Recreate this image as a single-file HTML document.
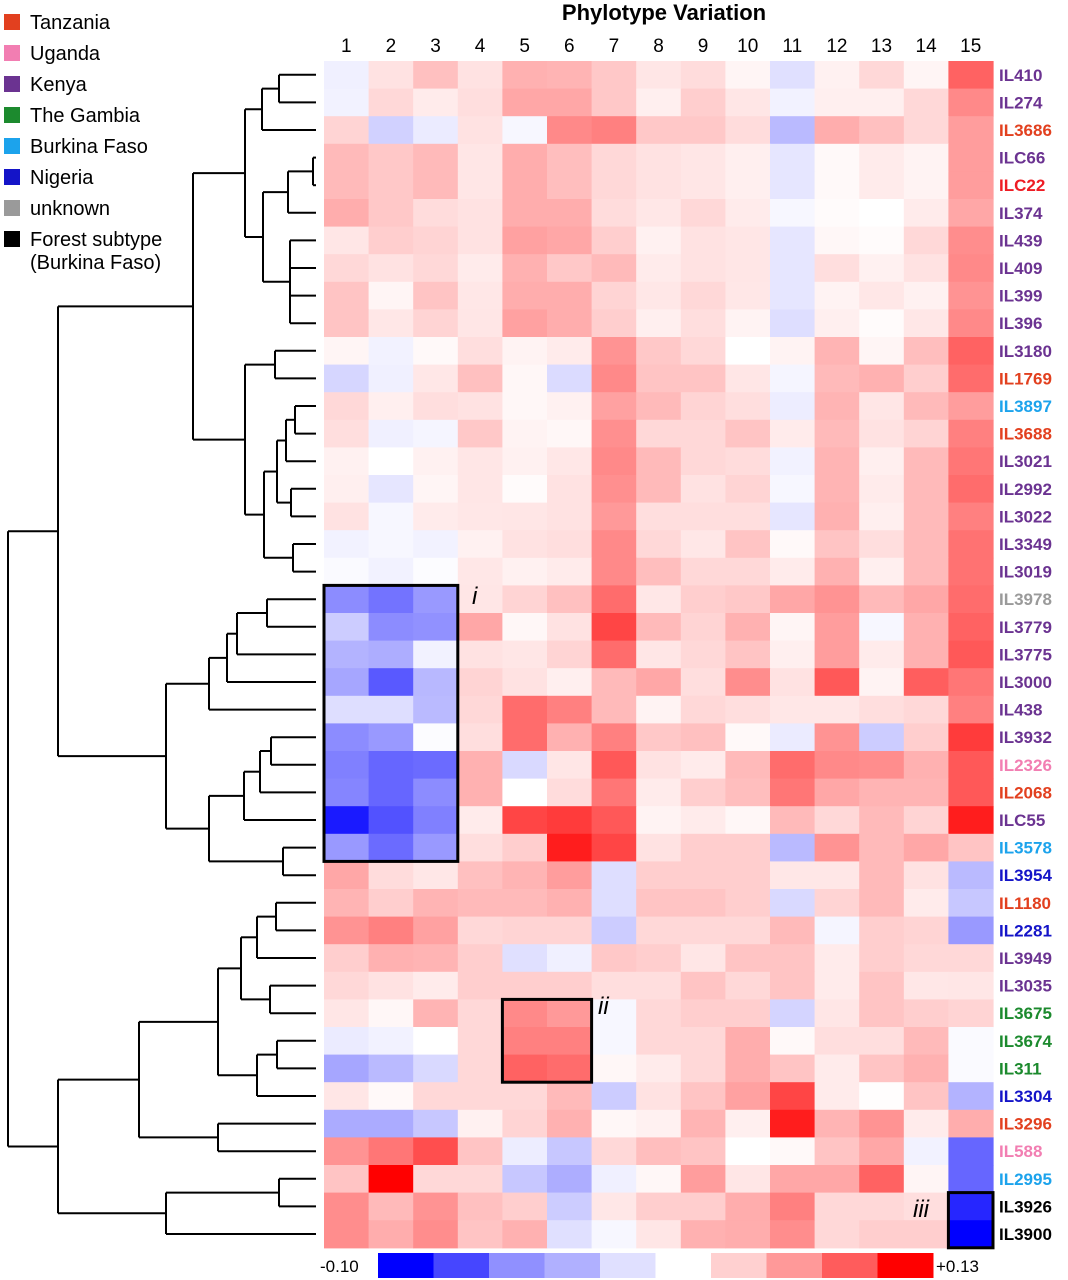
<!DOCTYPE html>
<html><head><meta charset="utf-8">
<style>
body{margin:0;background:#fff;width:1068px;height:1280px;overflow:hidden;font-family:"Liberation Sans",Arial,sans-serif;}
svg{display:block}
</style></head>
<body>
<svg id="chart" width="1068" height="1280" xmlns="http://www.w3.org/2000/svg"></svg>
<script>
const columns=["1","2","3","4","5","6","7","8","9","10","11","12","13","14","15"];
const rowLabels=["IL410","IL274","IL3686","ILC66","ILC22","IL374","IL439","IL409","IL399","IL396","IL3180","IL1769","IL3897","IL3688","IL3021","IL2992","IL3022","IL3349","IL3019","IL3978","IL3779","IL3775","IL3000","IL438","IL3932","IL2326","IL2068","ILC55","IL3578","IL3954","IL1180","IL2281","IL3949","IL3035","IL3675","IL3674","IL311","IL3304","IL3296","IL588","IL2995","IL3926","IL3900"];
const rowOrigin=["K","K","T","K","T2","K","K","K","K","K","K","T","BF","T","K","K","K","K","K","UN","K","K","K","K","K","U","T","K","BF","N","T","N","K","K","G","G","G","N","T","U","BF","F","F"];
const values=[
[-0.006,0.015,0.032,0.015,0.04,0.038,0.028,0.013,0.018,0.005,-0.012,0.007,0.02,0.005,0.08],
[-0.005,0.02,0.01,0.017,0.045,0.045,0.028,0.008,0.025,0.013,-0.005,0.008,0.008,0.02,0.06],
[0.022,-0.018,-0.008,0.015,-0.003,0.06,0.065,0.028,0.028,0.018,-0.027,0.042,0.032,0.02,0.05],
[0.035,0.028,0.035,0.013,0.042,0.033,0.02,0.015,0.013,0.008,-0.01,0.003,0.01,0.006,0.05],
[0.035,0.028,0.035,0.013,0.042,0.033,0.02,0.015,0.013,0.008,-0.01,0.003,0.01,0.006,0.05],
[0.042,0.028,0.018,0.015,0.042,0.042,0.018,0.012,0.02,0.01,-0.003,0.002,0.0,0.01,0.045],
[0.013,0.025,0.022,0.015,0.048,0.045,0.025,0.007,0.015,0.013,-0.01,0.004,0.002,0.02,0.058],
[0.02,0.015,0.02,0.01,0.04,0.028,0.035,0.01,0.015,0.013,-0.01,0.017,0.007,0.015,0.06],
[0.03,0.005,0.03,0.012,0.042,0.042,0.022,0.012,0.02,0.012,-0.01,0.006,0.012,0.007,0.055],
[0.03,0.012,0.022,0.013,0.048,0.042,0.025,0.008,0.017,0.006,-0.013,0.008,0.002,0.012,0.06],
[0.005,-0.005,0.003,0.017,0.006,0.01,0.055,0.028,0.02,0.0,0.006,0.038,0.005,0.033,0.08],
[-0.016,-0.006,0.012,0.032,0.004,-0.014,0.06,0.03,0.03,0.013,-0.004,0.035,0.04,0.025,0.075],
[0.02,0.008,0.017,0.015,0.004,0.007,0.048,0.035,0.022,0.017,-0.007,0.038,0.013,0.035,0.05],
[0.017,-0.006,-0.004,0.028,0.006,0.004,0.057,0.02,0.02,0.03,0.01,0.035,0.015,0.022,0.065],
[0.007,0.0,0.007,0.013,0.007,0.012,0.06,0.035,0.02,0.018,-0.005,0.038,0.008,0.035,0.07],
[0.008,-0.01,0.005,0.013,0.002,0.015,0.057,0.035,0.015,0.022,-0.003,0.038,0.01,0.035,0.075],
[0.015,-0.003,0.01,0.012,0.013,0.015,0.052,0.017,0.017,0.017,-0.01,0.04,0.008,0.035,0.065],
[-0.005,-0.003,-0.005,0.007,0.015,0.017,0.06,0.02,0.012,0.03,0.003,0.03,0.017,0.035,0.072],
[-0.002,-0.005,-0.001,0.012,0.007,0.01,0.06,0.033,0.02,0.02,0.01,0.04,0.008,0.035,0.072],
[-0.045,-0.055,-0.04,0.013,0.022,0.032,0.075,0.012,0.025,0.028,0.045,0.055,0.035,0.045,0.075],
[-0.02,-0.045,-0.043,0.045,0.004,0.015,0.095,0.035,0.022,0.04,0.005,0.05,-0.003,0.04,0.08],
[-0.03,-0.032,-0.005,0.015,0.013,0.022,0.075,0.013,0.02,0.03,0.008,0.05,0.01,0.04,0.085],
[-0.035,-0.065,-0.028,0.022,0.015,0.008,0.035,0.045,0.017,0.058,0.015,0.085,0.006,0.082,0.07],
[-0.013,-0.013,-0.027,0.02,0.075,0.065,0.035,0.006,0.02,0.017,0.012,0.012,0.017,0.02,0.065],
[-0.045,-0.04,-0.001,0.017,0.075,0.04,0.065,0.028,0.032,0.003,-0.008,0.055,-0.02,0.025,0.1],
[-0.05,-0.06,-0.058,0.04,-0.015,0.013,0.085,0.015,0.01,0.035,0.075,0.06,0.058,0.04,0.085],
[-0.048,-0.06,-0.045,0.04,0.0,0.018,0.07,0.01,0.025,0.033,0.07,0.045,0.038,0.038,0.085],
[-0.09,-0.068,-0.05,0.01,0.095,0.1,0.085,0.006,0.01,0.004,0.035,0.02,0.035,0.022,0.115],
[-0.04,-0.058,-0.04,0.017,0.025,0.115,0.095,0.015,0.025,0.025,-0.027,0.055,0.035,0.045,0.03],
[0.045,0.018,0.012,0.032,0.038,0.05,-0.013,0.025,0.025,0.025,0.012,0.012,0.035,0.015,-0.027],
[0.038,0.025,0.038,0.035,0.035,0.04,-0.013,0.03,0.03,0.025,-0.015,0.022,0.035,0.01,-0.022],
[0.055,0.065,0.048,0.02,0.022,0.022,-0.02,0.02,0.02,0.02,0.035,-0.004,0.025,0.022,-0.04],
[0.025,0.04,0.038,0.025,-0.012,-0.006,0.028,0.025,0.013,0.03,0.03,0.01,0.025,0.02,0.02],
[0.02,0.015,0.01,0.025,0.025,0.025,0.017,0.017,0.03,0.02,0.03,0.01,0.03,0.012,0.013],
[0.013,0.004,0.038,0.02,0.06,0.052,-0.003,0.02,0.025,0.025,-0.017,0.013,0.03,0.025,0.022],
[-0.008,-0.005,0.0,0.02,0.065,0.065,-0.003,0.02,0.02,0.042,0.003,0.017,0.017,0.035,-0.002],
[-0.035,-0.027,-0.015,0.02,0.08,0.075,0.004,0.01,0.02,0.042,0.03,0.01,0.03,0.04,-0.002],
[0.013,0.003,0.02,0.02,0.02,0.035,-0.02,0.015,0.03,0.048,0.095,0.01,0.001,0.03,-0.03],
[-0.033,-0.033,-0.022,0.007,0.022,0.04,0.004,0.007,0.038,0.008,0.115,0.038,0.055,0.01,0.042],
[0.055,0.07,0.09,0.03,-0.007,-0.022,0.02,0.033,0.03,0.0,0.003,0.03,0.045,-0.005,-0.06],
[0.03,0.13,0.02,0.02,-0.022,-0.032,-0.006,0.004,0.05,0.013,0.045,0.045,0.08,0.005,-0.06],
[0.058,0.035,0.055,0.032,0.025,-0.02,0.012,0.025,0.025,0.042,0.065,0.02,0.02,0.017,-0.085],
[0.058,0.042,0.058,0.03,0.04,-0.012,-0.003,0.013,0.04,0.042,0.058,0.02,0.025,0.025,-0.1]
];
const legendNames=["Tanzania","Uganda","Kenya","The Gambia","Burkina Faso","Nigeria","unknown","Forest subtype"];
const scaleTicks=["-0.10","+0.13"];
const scaleColors=["#0000ff","#4646ff","#9090ff","#b0b0ff","#e0e0ff","#ffffff","#ffd0d0","#ff9999","#ff5c5c","#ff0000"];
const tree=[8,
 [58,
  [193,
   [245,[262,[279,0,1],2],[263,[288,[313,3,4],5],[290,6,7,8,9]]],
   [245,[275,10,11],[264,[277,[286,[295,12,13],14],[291,15,16]],[293,17,18]]]],
  [166,
   [209,[227,[237,[267,19,20],21],22],23],
   [209,[244,[260,[271,24,25],26],27],[283,28,29]]]],
 [58,
  [139,
   [218,[241,[257,[276,30,31],32],[270,33,34]],[257,[277,35,36],37]],
   [218,38,39]],
  [166,[279,40,41],42]]];

const originColor={K:"#6b3391",T:"#e2401f",T2:"#ee1c24",BF:"#1ca3ec",U:"#f27eb2",N:"#1414c8",G:"#1c8a2e",UN:"#9a9a9a",F:"#000000"};
const legendColors=["#e2401f","#f27eb2","#6b3391","#1c8a2e","#1ca3ec","#1414c8","#9a9a9a","#000000"];

const NS="http://www.w3.org/2000/svg";
const svg=document.getElementById("chart");
const X0=324,CW=44.6,Y0=61,RH=27.6,VMIN=-0.10,VMAX=0.13;
const xCol=i=>X0+i*CW;
const yRow=r=>Y0+r*RH;
function color(v){
  let t,r,g,b;
  if(v>=0){t=Math.min(1,v/VMAX);r=255;g=b=Math.round(255*(1-t));}
  else{t=Math.min(1,v/VMIN);b=255;r=g=Math.round(255*(1-t));}
  return `rgb(${r},${g},${b})`;
}
function mk(tag,attrs,parent){const e=document.createElementNS(NS,tag);for(const k in attrs)e.setAttribute(k,attrs[k]);(parent||svg).appendChild(e);return e;}

let t=mk("text",{x:664,y:20,"text-anchor":"middle","font-size":22,"font-weight":"bold",fill:"#000"});
t.textContent="Phylotype Variation";



columns.forEach((c,i)=>{
  const e=mk("text",{x:xCol(i)+CW/2,y:52,"text-anchor":"middle","font-size":19,fill:"#000"});
  e.textContent=c;
  
  
});

const cg=mk("g",{});


values.forEach((row,r)=>row.forEach((v,c)=>{
  const e=mk("rect",{x:xCol(c),y:yRow(r),width:CW+0.6,height:RH+0.6,fill:color(v)},cg);
  
  
}));

rowLabels.forEach((l,r)=>{
  const e=mk("text",{x:999,y:yRow(r)+RH/2+6,"font-size":17,"font-weight":"bold",fill:originColor[rowOrigin[r]]});
  e.textContent=l;
  
  
});

function box(c0,c1,r0,r1,name){
  const e=mk("rect",{x:xCol(c0),y:yRow(r0),width:xCol(c1+1)-xCol(c0),height:yRow(r1+1)-yRow(r0),fill:"none",stroke:"#000","stroke-width":3});
  
  
}
box(0,2,19,28,'box-i');box(4,5,34,36,'box-ii');box(14,14,41,42,'box-iii');
[["i",472,604],["ii",598,1014],["iii",913,1217]].forEach(([s,x,y])=>{
  const e=mk("text",{x:x,y:y,"font-size":24,"font-style":"italic",fill:"#000"});
  e.textContent=s;
  
  
});

const dg=mk("g",{stroke:"#000","stroke-width":2,fill:"none"});


const LEAFX=316;
function draw(node){
  if(typeof node==="number") return {x:LEAFX,y:yRow(node)+RH/2};
  const nx=node[0];const kids=node.slice(1).map(draw);
  const ys=kids.map(k=>k.y);
  kids.forEach(k=>mk("line",{x1:nx,y1:k.y,x2:k.x,y2:k.y},dg));
  mk("line",{x1:nx,y1:Math.min(...ys),x2:nx,y2:Math.max(...ys)},dg);
  return {x:nx,y:(Math.min(...ys)+Math.max(...ys))/2};
}
draw(tree);

legendNames.forEach((n,i)=>{
  const y=22+i*31;
  const s=mk("rect",{x:4,y:y-8,width:16,height:16,fill:legendColors[i]});
  
  
  const e=mk("text",{x:30,y:y+7,"font-size":20,fill:"#000"});
  e.textContent=n;
  
  
});
const fx=mk("text",{x:30,y:269,"font-size":20,fill:"#000"});
fx.textContent="(Burkina Faso)";



const SW=55.5;
scaleColors.forEach((c,i)=>{
  const e=mk("rect",{x:378+i*SW,y:1253,width:SW+0.5,height:25,fill:c});
  
  
});
const tl=mk("text",{x:320,y:1272,"font-size":17,fill:"#000"});tl.textContent=scaleTicks[0];


const tr=mk("text",{x:936,y:1272,"font-size":17,fill:"#000"});tr.textContent=scaleTicks[1];


</script>
</body></html>
